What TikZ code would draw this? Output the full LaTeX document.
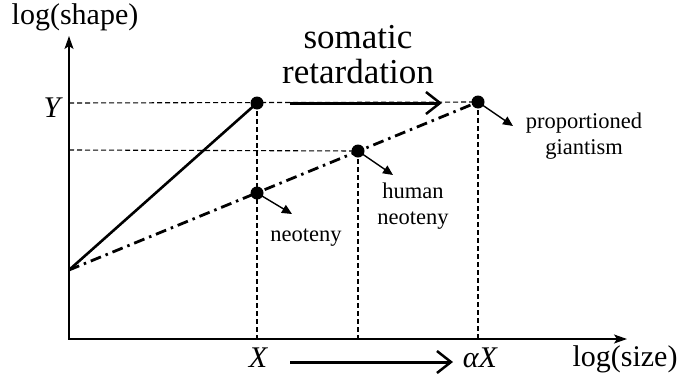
\documentclass[tikz,border=0pt]{standalone}
\usepackage{fontspec}
\setmainfont{Liberation Serif}
\usetikzlibrary{arrows.meta}
\tikzset{
  axisline/.style={line width=1.6pt, {Stealth[length=13pt,width=9pt,inset=3pt]}-{Stealth[length=13pt,width=9pt,inset=3pt]}},
  guide/.style={line width=1.1pt, dash pattern=on 5pt off 3pt},
  dotnode/.style={circle, fill, inner sep=0pt, minimum size=13pt},
  growth/.style={line width=2.6pt},
  dashdot/.style={line width=2.8pt, dash pattern=on 11pt off 5pt on 2.5pt off 5pt},
  bigarrow/.style={line width=3pt, -{Straight Barb[length=14pt,width=22pt,line width=2.5pt]}},
  pointer/.style={line width=1.4pt, -{Triangle[length=10pt,width=9pt]}},
  lbl/.style={font=\fontsize{22.5}{26}\selectfont, align=center, inner sep=0pt},
  biglbl/.style={font=\fontsize{35}{35}\selectfont, align=center, inner sep=0pt},
  axislbl/.style={font=\fontsize{30}{30}\selectfont, inner sep=0pt},
  varlbl/.style={font=\fontsize{30}{30}\selectfont\itshape, inner sep=0pt}
}
\begin{document}
\begin{tikzpicture}[x=1pt,y=-1pt]
\useasboundingbox (0,0) rectangle (695,375);
% axes
\coordinate (O) at (69,339);
\coordinate (ytop) at (69,36);
\coordinate (xend) at (627,339);
\coordinate (I) at (69,270);
\coordinate (yY) at (69,103);
\coordinate (yH) at (69,150);
\coordinate (A) at (257,103);
\coordinate (N) at (257,193);
\coordinate (H) at (358,151);
\coordinate (B) at (478,102);
\coordinate (xA) at (257,339);
\coordinate (xH) at (358,339);
\coordinate (xB) at (478,339);
% guide lines
\draw[guide] (yY) -- (B);
\draw[guide] (yH) -- (H);
\draw[guide] (A) -- (xA);
\draw[guide] (H) -- (xH);
\draw[guide] (B) -- (xB);
\draw[axisline] (ytop) -- (O) -- (xend);
% growth lines
\draw[growth] (I) -- (A);
\draw[dashdot] (I) -- (B);
% dots
\node[dotnode] (dA) at (A) {};
\node[dotnode] (dN) at (N) {};
\node[dotnode] (dH) at (H) {};
\node[dotnode] (dB) at (B) {};
% pointers
\coordinate (pN) at (292,214);
\coordinate (pH) at (393,175);
\coordinate (pB) at (513,126);
\draw[pointer] (dN.center) -- (pN);
\draw[pointer] (dH.center) -- (pH);
\draw[pointer] (dB.center) -- (pB);
% somatic retardation arrow
\coordinate (s1) at (290,103);
\coordinate (s2) at (442,103);
\draw[bigarrow] (s1) -- (s2);
\node[biglbl] (som) at (358,55) {somatic\\retardation};
% bottom arrow
\node[varlbl] (X) at (258,358) {X};
\node[varlbl] (aX) at (480,358) {αX};
\coordinate (b1) at (290,362);
\coordinate (b2) at (453,362);
\draw[bigarrow] (b1) -- (b2);
% labels
\node[axislbl] (lshape) at (75,17) {log(shape)};
\node[axislbl] (lsize) at (625,359) {log(size)};
\node[varlbl] (Y) at (52,108) {Y};
\node[lbl] (lneo) at (306,238) {neoteny};
\node[lbl] (lhum) at (413,206) {human\\neoteny};
\node[lbl] (lgia) at (584,136) {proportioned\\giantism};
\end{tikzpicture}
\end{document}
